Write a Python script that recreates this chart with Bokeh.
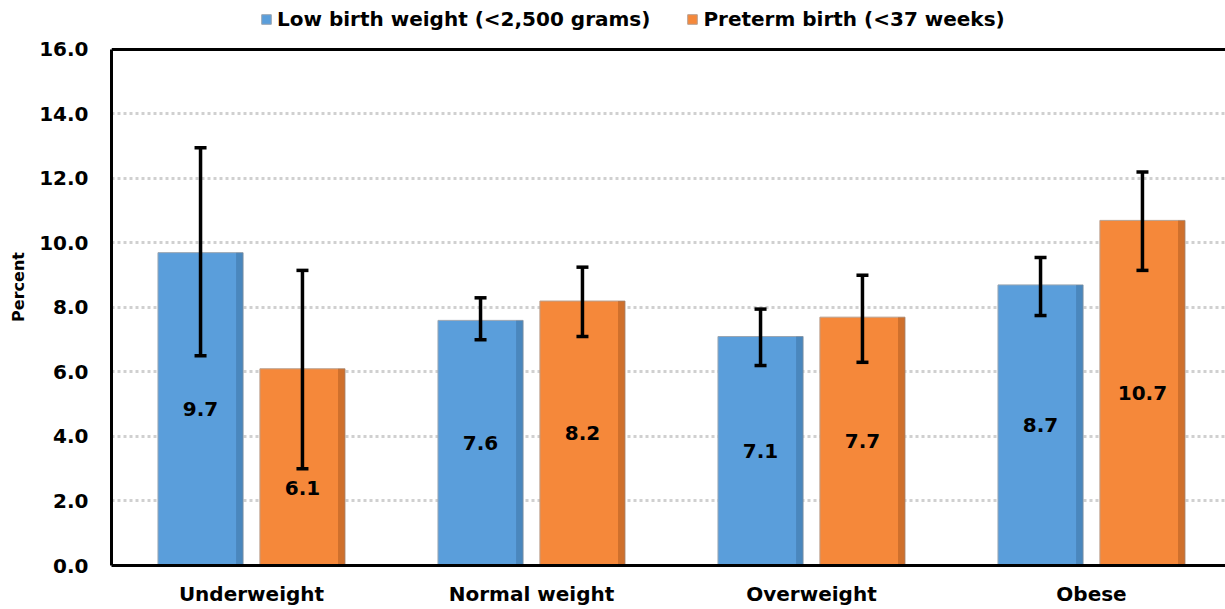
import numpy as np
from bokeh.plotting import figure
from bokeh.models import (ColumnDataSource, Range1d, FixedTicker, Whisker, TeeHead,
                          Legend, LegendItem, Span)
from bokeh.core.properties import value
from bokeh.embed import file_html
from bokeh.resources import INLINE

categories = ["Underweight", "Normal weight", "Overweight", "Obese"]
series_names = ["Low birth weight (<2,500 grams)", "Preterm birth (<37 weeks)"]
low_bw = [9.7, 7.6, 7.1, 8.7]
low_bw_lo = [6.5, 7.0, 6.2, 7.75]
low_bw_hi = [12.95, 8.3, 7.95, 9.55]
preterm = [6.1, 8.2, 7.7, 10.7]
preterm_lo = [3.0, 7.1, 6.3, 9.15]
preterm_hi = [9.15, 9.25, 9.0, 12.2]
y_ticks = [0, 2, 4, 6, 8, 10, 12, 14, 16]

FONT = "DejaVu Sans"
BLUE = "#5A9EDB"
BLUE_DARK = "#2F5C86"
ORANGE = "#F5883A"
ORANGE_DARK = "#8A4414"
BAR_W = 0.304
OFFSET = 0.182
SHADE_W = 0.025
Y_MAX = 16
Y_TOP = 17.27   # room above the plot frame for the legend
FRAME_W = 1114
GROUP_PX = 280

centers = np.arange(len(categories)) + 0.5

def make_source(vals, lo, hi, off):
    vals = np.array(vals, dtype=float)
    lo = np.array(lo, dtype=float)
    hi = np.array(hi, dtype=float)
    ly = np.minimum(vals / 2.0, lo - 0.6)
    x = centers + off
    return ColumnDataSource(dict(
        x=x, xs=x + BAR_W / 2 - SHADE_W / 2, top=vals, lo=lo, hi=hi, ly=ly,
        t=["%.1f" % v for v in vals]))

src_b = make_source(low_bw, low_bw_lo, low_bw_hi, -OFFSET)
src_o = make_source(preterm, preterm_lo, preterm_hi, OFFSET)

p = figure(frame_width=FRAME_W, frame_height=557, output_backend="svg", toolbar_location=None,
           x_range=Range1d(0, FRAME_W / GROUP_PX), y_range=Range1d(0, Y_TOP),
           min_border_left=111, min_border_right=0, min_border_top=8,
           min_border_bottom=36)
p.outline_line_color = None
p.background_fill_color = "white"
p.border_fill_color = "white"

rb = p.vbar(x="x", top="top", width=BAR_W, source=src_b, fill_color=BLUE,
            line_color="#9AA6B2", line_width=1)
ro = p.vbar(x="x", top="top", width=BAR_W, source=src_o, fill_color=ORANGE,
            line_color="#B8A090", line_width=1)
# darker right-edge shading (bevel look)
p.vbar(x="xs", top="top", width=SHADE_W, source=src_b, fill_color=BLUE_DARK,
       fill_alpha=0.35, line_color=None)
p.vbar(x="xs", top="top", width=SHADE_W, source=src_o, fill_color=ORANGE_DARK,
       fill_alpha=0.35, line_color=None)

for src in (src_b, src_o):
    w = Whisker(base="x", upper="hi", lower="lo", source=src, dimension="height",
                level="overlay", line_color="black", line_width=3.5,
                upper_head=TeeHead(size=12, line_width=3.5, line_color="black"),
                lower_head=TeeHead(size=12, line_width=3.5, line_color="black"))
    p.add_layout(w)
    p.text(x="x", y="ly", text="t", source=src, text_font=value(FONT),
           text_font_style="bold", text_font_size="20px", text_align="center",
           text_baseline="middle", text_color="black")

p.add_layout(Span(location=Y_MAX, dimension="width", line_color="black", line_width=3))

# axes
p.xaxis.ticker = FixedTicker(ticks=list(centers))
p.xaxis.major_label_overrides = {float(c): cat for c, cat in zip(centers, categories)}
p.xaxis.axis_line_width = 3
p.xaxis.axis_line_color = "black"
p.xaxis.major_tick_line_color = None
p.xaxis.minor_tick_line_color = None
p.xaxis.major_label_text_font = FONT
p.xaxis.major_label_text_font_style = "bold"
p.xaxis.major_label_text_font_size = "20px"
p.xaxis.major_label_text_color = "black"
p.xaxis.major_label_standoff = 10

p.yaxis.ticker = FixedTicker(ticks=y_ticks)
p.yaxis.bounds = (0, Y_MAX)
p.yaxis.major_label_overrides = {t: "%.1f" % t for t in y_ticks}
p.yaxis.axis_line_width = 3
p.yaxis.axis_line_color = "black"
p.yaxis.major_tick_line_color = None
p.yaxis.minor_tick_line_color = None
p.yaxis.major_label_text_font = FONT
p.yaxis.major_label_text_font_style = "bold"
p.yaxis.major_label_text_font_size = "20px"
p.yaxis.major_label_text_color = "black"
p.yaxis.major_label_standoff = 17
p.yaxis.axis_label = "Percent"
p.yaxis.axis_label_text_font = FONT
p.yaxis.axis_label_text_font_style = "bold"
p.yaxis.axis_label_text_font_size = "16px"
p.yaxis.axis_label_text_color = "black"
p.yaxis.axis_label_standoff = 8

p.xgrid.grid_line_color = None
p.ygrid.ticker = FixedTicker(ticks=y_ticks[1:-1])
p.ygrid.grid_line_color = "#D0D0D0"
p.ygrid.grid_line_width = 3
p.ygrid.grid_line_dash = "3 3"

legend = Legend(items=[LegendItem(label=series_names[0], renderers=[rb]),
                       LegendItem(label=series_names[1], renderers=[ro])],
                orientation="horizontal", location=(149, 534),
                label_text_font=FONT, label_text_font_style="bold",
                label_text_font_size="20px", label_text_color="black",
                glyph_width=12, glyph_height=12,
                spacing=36, padding=2, margin=0, border_line_color=None,
                background_fill_alpha=0, label_standoff=5)
p.add_layout(legend)

open("out.html", "w").write(file_html(p, INLINE))
